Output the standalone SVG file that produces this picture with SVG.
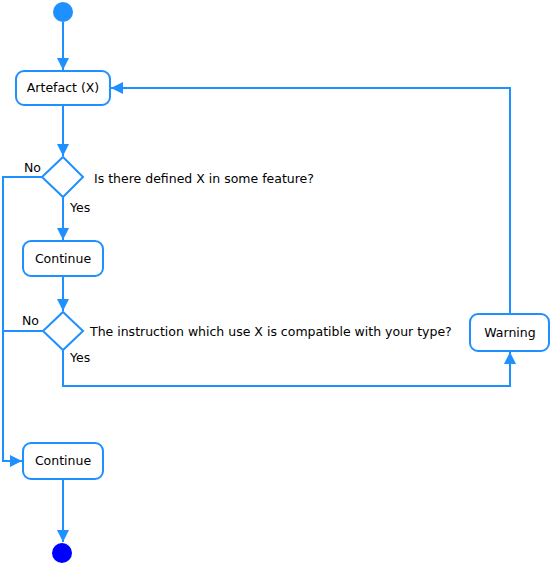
<svg xmlns="http://www.w3.org/2000/svg" width="551" height="564" viewBox="0 0 551 564">
<defs>
<style>
.n{fill:#fff;stroke:#1E90FF;stroke-width:2}
.c{fill:none;stroke:#1E90FF;stroke-width:2}
.t{font-family:"DejaVu Sans",sans-serif;font-size:12.5px;fill:#000}
.m{text-anchor:middle}
</style>
<marker id="a" viewBox="0 0 12 12" refX="12" refY="6" markerWidth="12" markerHeight="12" markerUnits="userSpaceOnUse" orient="auto">
<path d="M0,0 L12,6 L0,12 Z" fill="#1E90FF"/>
</marker>
</defs>
<rect width="551" height="564" fill="#fff"/>
<g id="connectors">
<path class="c" d="M63,22 V70" marker-end="url(#a)"/>
<path class="c" d="M63,106 V156" marker-end="url(#a)"/>
<path class="c" d="M63,197 V240" marker-end="url(#a)"/>
<path class="c" d="M63,277 V311" marker-end="url(#a)"/>
<path class="c" d="M42,177 H3 V461 H22" marker-end="url(#a)"/>
<path class="c" d="M43,331 H3"/>
<path class="c" d="M63,350 V386 H510 V352" marker-end="url(#a)"/>
<path class="c" d="M510,314 V88 H111" marker-end="url(#a)"/>
<path class="c" d="M63,479 V542" marker-end="url(#a)"/>
</g>
<g id="start"><circle cx="63" cy="12" r="10" fill="#1E90FF"/></g>
<g id="artefact"><rect class="n" x="16" y="71" width="94" height="34" rx="8"/><text class="t m" x="63" y="92">Artefact (X)</text></g>
<g id="decision1"><path class="n" d="M63,157 L83,177 L63,197 L42,177 Z"/><text class="t" x="94" y="183">Is there defined X in some feature?</text><text class="t" x="24" y="172">No</text><text class="t" x="70" y="212">Yes</text></g>
<g id="continue1"><rect class="n" x="23" y="241" width="80" height="35" rx="8"/><text class="t m" x="63" y="263">Continue</text></g>
<g id="decision2"><path class="n" d="M63,312 L83,331 L63,350 L43,331 Z"/><text class="t" x="90" y="336">The instruction which use X is compatible with your type?</text><text class="t" x="22" y="325">No</text><text class="t" x="70" y="362">Yes</text></g>
<g id="warning"><rect class="n" x="470" y="314" width="79" height="37" rx="8"/><text class="t m" x="510" y="337">Warning</text></g>
<g id="continue2"><rect class="n" x="23" y="443" width="80" height="36" rx="8"/><text class="t m" x="63" y="465">Continue</text></g>
<g id="end"><circle cx="62" cy="553" r="10" fill="#0000FF"/></g>
</svg>
